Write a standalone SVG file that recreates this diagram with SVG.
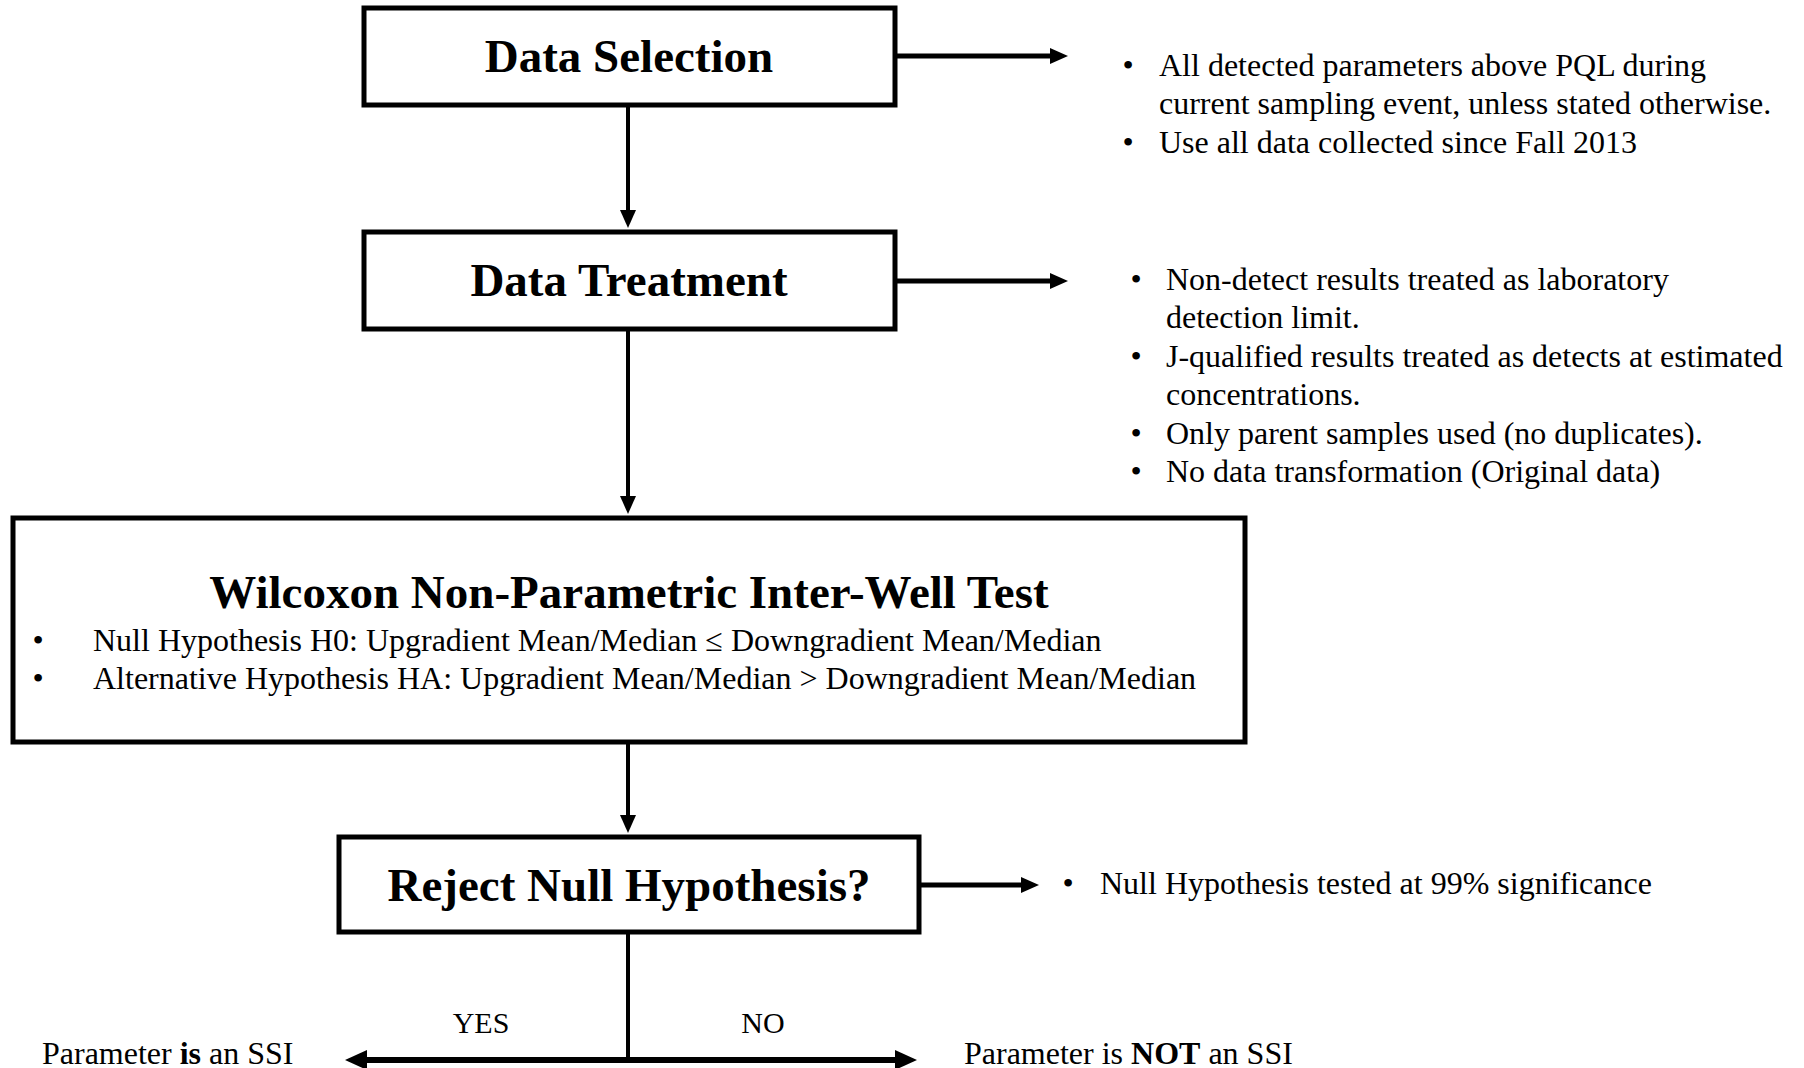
<svg xmlns="http://www.w3.org/2000/svg" width="1804" height="1068" viewBox="0 0 1804 1068">
<style>
.box{fill:#fff;stroke:#000;stroke-width:5}
.title{font-family:"Liberation Serif","Times New Roman",serif;font-weight:bold;font-size:47px;fill:#000;text-anchor:middle}
.txt{font-family:"Liberation Serif","Times New Roman",serif;font-size:32px;fill:#000}
.bul{font-family:"Liberation Serif","Times New Roman",serif;font-size:32px;fill:#000;text-anchor:middle}
.lbl{font-family:"Liberation Serif","Times New Roman",serif;font-size:30px;fill:#000;text-anchor:middle}
.v{stroke:#000;stroke-width:4;fill:none}
.h{stroke:#000;stroke-width:5;fill:none}
.hb{stroke:#000;stroke-width:6;fill:none}
</style>
<defs>
<marker id="ah" viewBox="0 0 18 16" refX="8" refY="8" markerWidth="18" markerHeight="16" markerUnits="userSpaceOnUse" orient="auto">
<path d="M0,0 L18,8 L0,16 z" fill="#000"/>
</marker>
<marker id="ahb" viewBox="0 0 22 20" refX="10" refY="10" markerWidth="22" markerHeight="20" markerUnits="userSpaceOnUse" orient="auto">
<path d="M0,0 L22,10 L0,20 z" fill="#000"/>
</marker>
</defs>
<rect width="1804" height="1068" fill="#fff"/>
<g id="connectors">
<line class="v" x1="628" y1="105" x2="628" y2="218" marker-end="url(#ah)"/>
<line class="v" x1="628" y1="329" x2="628" y2="504" marker-end="url(#ah)"/>
<line class="v" x1="628" y1="742" x2="628" y2="823" marker-end="url(#ah)"/>
<line class="h" x1="897" y1="56" x2="1058" y2="56" marker-end="url(#ah)"/>
<line class="h" x1="897" y1="281" x2="1058" y2="281" marker-end="url(#ah)"/>
<line class="h" x1="921" y1="885" x2="1029" y2="885" marker-end="url(#ah)"/>
<line class="v" x1="628" y1="932" x2="628" y2="1060"/>
<line class="hb" x1="628" y1="1060" x2="357" y2="1060" marker-end="url(#ahb)"/>
<line class="hb" x1="628" y1="1060" x2="905" y2="1060" marker-end="url(#ahb)"/>
</g>
<g id="data-selection">
<rect class="box" x="364" y="8" width="531" height="97"/>
<text class="title" x="629" y="72">Data Selection</text>
</g>
<g id="data-selection-notes">
<text class="bul" x="1128" y="76">•</text>
<text class="txt" x="1159" y="76">All detected parameters above PQL during</text>
<text class="txt" x="1159" y="114">current sampling event, unless stated otherwise.</text>
<text class="bul" x="1128" y="153">•</text>
<text class="txt" x="1159" y="153">Use all data collected since Fall 2013</text>
</g>
<g id="data-treatment">
<rect class="box" x="364" y="232" width="531" height="97"/>
<text class="title" x="629" y="296">Data Treatment</text>
</g>
<g id="data-treatment-notes">
<text class="bul" x="1136" y="290">•</text>
<text class="txt" x="1166" y="290">Non-detect results treated as laboratory</text>
<text class="txt" x="1166" y="328">detection limit.</text>
<text class="bul" x="1136" y="367">•</text>
<text class="txt" x="1166" y="367">J-qualified results treated as detects at estimated</text>
<text class="txt" x="1166" y="405">concentrations.</text>
<text class="bul" x="1136" y="444">•</text>
<text class="txt" x="1166" y="444">Only parent samples used (no duplicates).</text>
<text class="bul" x="1136" y="482">•</text>
<text class="txt" x="1166" y="482">No data transformation (Original data)</text>
</g>
<g id="wilcoxon">
<rect class="box" x="13" y="518" width="1232" height="224"/>
<text class="title" x="629" y="608">Wilcoxon Non-Parametric Inter-Well Test</text>
<text class="bul" x="38" y="651">•</text>
<text class="txt" x="93" y="651">Null Hypothesis H0: Upgradient Mean/Median ≤ Downgradient Mean/Median</text>
<text class="bul" x="38" y="689">•</text>
<text class="txt" x="93" y="689">Alternative Hypothesis HA: Upgradient Mean/Median &gt; Downgradient Mean/Median</text>
</g>
<g id="reject">
<rect class="box" x="339" y="837" width="580" height="95"/>
<text class="title" x="629" y="901">Reject Null Hypothesis?</text>
</g>
<g id="reject-note">
<text class="bul" x="1068" y="894">•</text>
<text class="txt" x="1100" y="894">Null Hypothesis tested at 99% significance</text>
</g>
<g id="labels">
<text class="lbl" x="481" y="1033">YES</text>
<text class="lbl" x="763" y="1033">NO</text>
</g>
<g id="outcome-yes">
<text class="txt" x="42" y="1064">Parameter <tspan font-weight="bold">is</tspan> an SSI</text>
</g>
<g id="outcome-no">
<text class="txt" x="964" y="1064">Parameter is <tspan font-weight="bold">NOT</tspan> an SSI</text>
</g>
</svg>
